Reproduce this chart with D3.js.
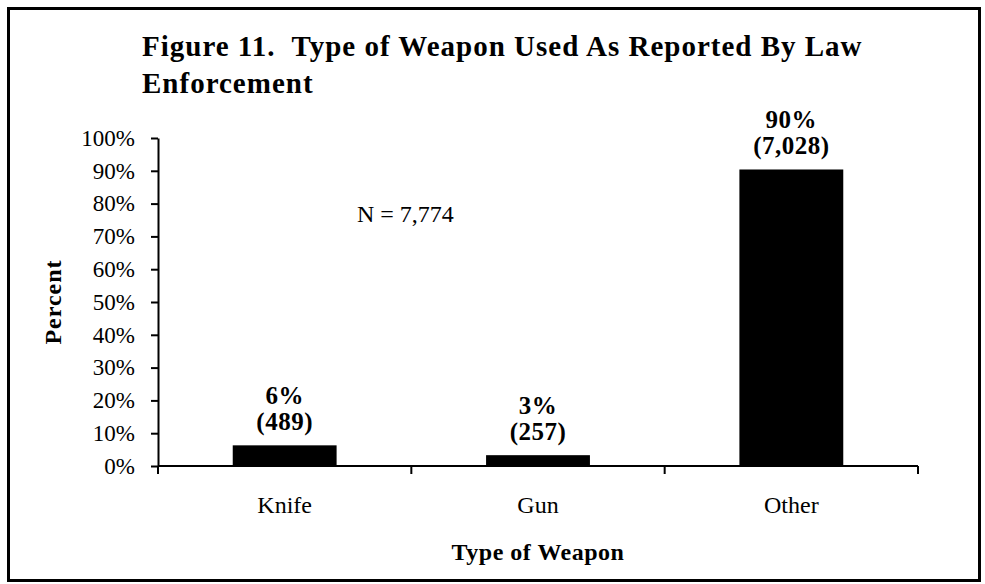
<!DOCTYPE html>
<html>
<head>
<meta charset="utf-8">
<script src="https://cdn.jsdelivr.net/npm/d3@7/dist/d3.min.js"></script>
<style>
  body { margin: 0; background: #fff; }
  svg text { font-family: "Liberation Serif", "Times New Roman", serif; fill: #000; }
</style>
</head>
<body>
<svg id="chart" width="985" height="584"></svg>
<script>
// chart data
let categories = ["Knife", "Gun", "Other"];
let percents = [6.3, 3.3, 90.4];
let pctLabels = ["6%", "3%", "90%"];
let countLabels = ["(489)", "(257)", "(7,028)"];
let yTicks = [0, 10, 20, 30, 40, 50, 60, 70, 80, 90, 100];
let titleLines = ["Figure 11.  Type of Weapon Used As Reported By Law", "Enforcement"];
let nLabel = "N = 7,774";

let svg = d3.select("#chart");

// outer frame
svg.append("rect")
  .attr("x", 8.5)
  .attr("y", 8.5)
  .attr("width", 971)
  .attr("height", 572)
  .style("fill", "none")
  .style("stroke", "#000")
  .style("stroke-width", 3);

// plot area (window.top is taken, so plot* names)
let plotLeft = 158, plotRight = 918, plotTop = 138, plotBottom = 466;

let x = d3.scaleBand()
  .domain(categories)
  .range([plotLeft, plotRight])
  .padding(0);

let y = d3.scaleLinear()
  .domain([0, 100])
  .range([plotBottom, plotTop]);

// title, keep the double space after "11."
svg.append("g").selectAll("text")
  .data(titleLines)
  .enter()
  .append("text")
  .attr("x", 142)
  .attr("y", function (d, i)
  {
    return 56 + i * 37;
  })
  .style("font-size", "29px")
  .style("font-weight", "bold")
  .style("letter-spacing", "1px")
  .style("white-space", "pre")
  .text(function (d)
  {
    return d;
  });

// y axis
let yAxis = svg.append("g")
  .attr("transform", "translate(" + plotLeft + ",0)")
  .call(d3.axisLeft(y)
    .tickValues(yTicks)
    .tickSize(7)
    .tickSizeOuter(0)
    .tickPadding(16)
    .tickFormat(function (d)
    {
      return d + "%";
    }));
yAxis.select(".domain").style("stroke", "#000").style("stroke-width", 2);
yAxis.selectAll(".tick line").style("stroke", "#000").style("stroke-width", 2);
yAxis.selectAll(".tick text")
  .style("font-size", "23px")
  .style("font-family", "'Liberation Serif', 'Times New Roman', serif");

// x axis baseline and the tick marks between categories
svg.append("line")
  .attr("x1", plotLeft)
  .attr("x2", plotRight)
  .attr("y1", plotBottom)
  .attr("y2", plotBottom)
  .style("stroke", "#000")
  .style("stroke-width", 2);

let edges = d3.range(categories.length + 1).map(function (i)
{
  return plotLeft + i * x.step();
});
svg.append("g").selectAll("line")
  .data(edges)
  .enter()
  .append("line")
  .attr("x1", function (d) { return d; })
  .attr("x2", function (d) { return d; })
  .attr("y1", plotBottom)
  .attr("y2", plotBottom + 8)
  .style("stroke", "#000")
  .style("stroke-width", 2);

// category labels
svg.append("g").selectAll("text")
  .data(categories)
  .enter()
  .append("text")
  .attr("x", function (d)
  {
    return x(d) + x.bandwidth() / 2;
  })
  .attr("y", 513)
  .attr("text-anchor", "middle")
  .style("font-size", "24px")
  .text(function (d)
  {
    return d;
  });

// bars
let barW = x.bandwidth() * 0.41;
svg.append("g").selectAll("rect")
  .data(percents)
  .enter()
  .append("rect")
  .attr("x", function (d, i)
  {
    return x(categories[i]) + (x.bandwidth() - barW) / 2;
  })
  .attr("y", function (d)
  {
    return y(d);
  })
  .attr("width", barW)
  .attr("height", function (d)
  {
    return plotBottom - y(d);
  })
  .style("fill", "#000");

// value labels over each bar: percent then count
let labels = svg.append("g").selectAll("g")
  .data(percents)
  .enter()
  .append("g")
  .attr("transform", function (d, i)
  {
    return "translate(" + (x(categories[i]) + x.bandwidth() / 2) + "," + y(d) + ")";
  });
labels.append("text")
  .attr("y", -41)
  .attr("text-anchor", "middle")
  .style("font-size", "25px")
  .style("font-weight", "bold")
  .style("letter-spacing", "0.5px")
  .text(function (d, i)
  {
    return pctLabels[i];
  });
labels.append("text")
  .attr("y", -15)
  .attr("text-anchor", "middle")
  .style("font-size", "25px")
  .style("font-weight", "bold")
  .style("letter-spacing", "0.5px")
  .text(function (d, i)
  {
    return countLabels[i];
  });

// N annotation
svg.append("text")
  .attr("x", 357)
  .attr("y", 222)
  .style("font-size", "24px")
  .text(nLabel);

// axis titles
svg.append("text")
  .attr("x", (plotLeft + plotRight) / 2)
  .attr("y", 560)
  .attr("text-anchor", "middle")
  .style("font-size", "24px")
  .style("font-weight", "bold")
  .style("letter-spacing", "0.5px")
  .text("Type of Weapon");

svg.append("text")
  .attr("transform", "translate(61," + (plotTop + plotBottom) / 2 + ") rotate(-90)")
  .attr("text-anchor", "middle")
  .style("font-size", "24px")
  .style("font-weight", "bold")
  .style("letter-spacing", "1px")
  .text("Percent");
</script>
</body>
</html>
